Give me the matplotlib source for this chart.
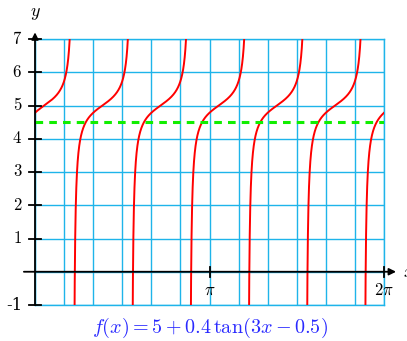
import numpy as np
import matplotlib.pyplot as plt

plt.rcParams['mathtext.fontset'] = 'cm'
plt.rcParams['font.family'] = 'serif'

# f(x) = a + b*tan(k*x - c)
a, b, k, c = 5, 0.4, 3, 0.5
level = 4.5
y_ticks = [-1, 1, 2, 3, 4, 5, 6, 7]
x_ticks = [np.pi, 2 * np.pi]
x_tick_labels = [r'$\pi$', r'$2\pi$']
x_min, x_max = 0, 2 * np.pi
y_min, y_max = -1, 7

fig = plt.figure(figsize=(4.07, 3.41), dpi=100)
ax = fig.add_axes([35 / 407, 36 / 341, 349 / 407, 266 / 341])
ax.set_xlim(x_min, x_max)
ax.set_ylim(y_min, y_max)

grid_col = '#1eb4ea'
ax.set_xticks(np.linspace(x_min, x_max, 13))
ax.set_yticks(np.arange(y_min, y_max + 1))
ax.grid(True, color=grid_col, lw=1)
ax.tick_params(length=0, labelbottom=False, labelleft=False)
for s in ax.spines.values():
    s.set_color(grid_col)
    s.set_linewidth(1)

# curve, broken at asymptotes
x = np.linspace(x_min, x_max, 6000)
y = a + b * np.tan(k * x - c)
asym = (c + np.pi / 2 + np.pi * np.arange(-1, 8)) / k
for i in range(len(asym) - 1):
    m = (x > asym[i]) & (x < asym[i + 1])
    if m.any():
        ax.plot(x[m], y[m], color='red', lw=1.4, zorder=3)

ax.plot([x_min, x_max], [level, level], color='#11ee00', lw=2.2,
        dashes=(2.5, 2), zorder=3)

# axes with arrows
ax.annotate('', xy=(6.5, 0), xytext=(-0.2, 0),
            arrowprops=dict(arrowstyle='-|>', color='black', lw=1.3,
                            mutation_scale=10, shrinkA=0, shrinkB=0),
            annotation_clip=False, zorder=4)
ax.annotate('', xy=(0, 7.2), xytext=(0, -1),
            arrowprops=dict(arrowstyle='-|>', color='black', lw=1.3,
                            mutation_scale=10, shrinkA=0, shrinkB=0),
            annotation_clip=False, zorder=4)
for t in y_ticks:
    ax.plot([-0.1, 0.1], [t, t], color='black', lw=1.3, clip_on=False, zorder=4)
    ax.text(-0.23, t, '$%d$' % t if t > 0 else '-1', ha='right', va='center',
            fontsize=12, family='serif')
for t, lab in zip(x_ticks, x_tick_labels):
    ax.plot([t, t], [-0.15, 0.15], color='black', lw=1.3, clip_on=False, zorder=4)
    ax.text(t, -0.3, lab, ha='center', va='top', fontsize=12)

ax.text(0, 7.5, r'$y$', ha='center', va='bottom', fontsize=13)
ax.text(6.62, 0, r'$x$', ha='left', va='center', fontsize=13)

ax.text(np.pi, -1.33, r'$f(x) = 5 + 0.4\,\tan(3x - 0.5)$', ha='center',
        va='top', fontsize=14.5, color='#2a2aff')

plt.savefig('out.png', dpi=100)
